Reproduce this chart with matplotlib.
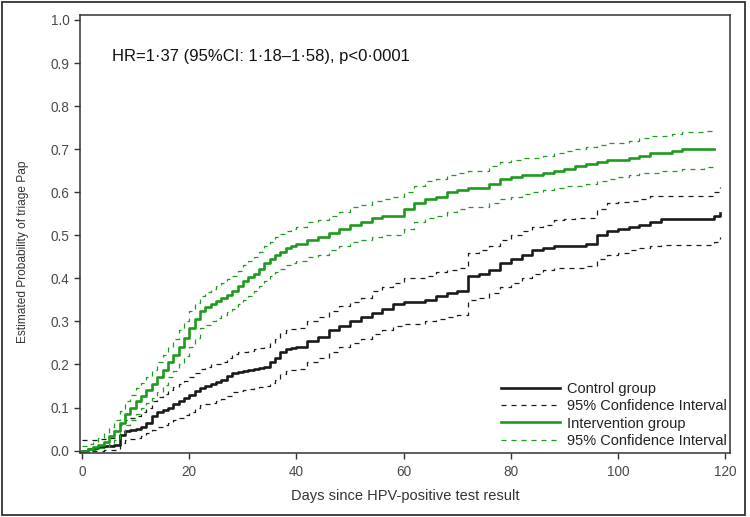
"""
Kaplan-Meier style curves: estimated probability of triage Pap by group
"""

import matplotlib
matplotlib.use("Agg")
import matplotlib.pyplot as plt
from matplotlib.patches import Rectangle

plt.rcParams["font.family"] = ["Liberation Sans", "DejaVu Sans"]

# daily up to day 39, then every 2 days
days_int = list(range(0, 40)) + list(range(40, 120, 2))
days_ctl = list(range(0, 40)) + list(range(40, 120, 2)) + [119]

int_est = [0.000, 0.004, 0.008, 0.012, 0.020, 0.033, 0.045, 0.065, 0.085, 0.100,
           0.115, 0.128, 0.140, 0.155, 0.170, 0.188, 0.205, 0.222, 0.240, 0.262,
           0.285, 0.305, 0.325, 0.333, 0.340, 0.348, 0.355, 0.362, 0.370, 0.383,
           0.395, 0.402, 0.410, 0.422, 0.435, 0.445, 0.455, 0.462, 0.470, 0.475,
           0.480, 0.490, 0.495, 0.505, 0.515, 0.525, 0.530, 0.540, 0.545, 0.545,
           0.560, 0.575, 0.585, 0.590, 0.600, 0.605, 0.610, 0.610, 0.620, 0.630,
           0.635, 0.640, 0.640, 0.645, 0.650, 0.655, 0.660, 0.665, 0.670, 0.675,
           0.675, 0.680, 0.685, 0.690, 0.690, 0.695, 0.700, 0.700, 0.700, 0.700]
int_upper = [0.010, 0.015, 0.020, 0.030, 0.040, 0.055, 0.070, 0.092, 0.115, 0.130,
             0.145, 0.158, 0.170, 0.188, 0.205, 0.222, 0.240, 0.260, 0.280, 0.302,
             0.325, 0.342, 0.360, 0.368, 0.375, 0.382, 0.390, 0.398, 0.405, 0.418,
             0.430, 0.440, 0.450, 0.462, 0.475, 0.485, 0.495, 0.502, 0.510, 0.515,
             0.520, 0.530, 0.535, 0.545, 0.555, 0.565, 0.570, 0.580, 0.585, 0.590,
             0.600, 0.615, 0.625, 0.630, 0.640, 0.645, 0.650, 0.650, 0.660, 0.670,
             0.675, 0.680, 0.680, 0.685, 0.690, 0.695, 0.700, 0.705, 0.710, 0.715,
             0.715, 0.720, 0.725, 0.730, 0.730, 0.735, 0.740, 0.740, 0.742, 0.744]
int_lower = [0.000, 0.001, 0.002, 0.005, 0.008, 0.016, 0.025, 0.042, 0.060, 0.072,
             0.085, 0.098, 0.110, 0.122, 0.135, 0.152, 0.170, 0.185, 0.200, 0.220,
             0.240, 0.262, 0.285, 0.292, 0.300, 0.308, 0.315, 0.322, 0.330, 0.340,
             0.350, 0.360, 0.370, 0.382, 0.395, 0.405, 0.415, 0.422, 0.430, 0.435,
             0.440, 0.450, 0.455, 0.465, 0.475, 0.485, 0.490, 0.495, 0.500, 0.500,
             0.515, 0.530, 0.540, 0.545, 0.555, 0.560, 0.565, 0.565, 0.575, 0.585,
             0.590, 0.595, 0.600, 0.605, 0.610, 0.615, 0.615, 0.620, 0.625, 0.630,
             0.635, 0.640, 0.645, 0.645, 0.650, 0.650, 0.655, 0.655, 0.658, 0.660]

ctl_est = [0.000, 0.003, 0.005, 0.008, 0.010, 0.011, 0.012, 0.036, 0.045, 0.048,
           0.050, 0.056, 0.065, 0.080, 0.090, 0.095, 0.100, 0.108, 0.115, 0.122,
           0.130, 0.138, 0.145, 0.150, 0.155, 0.160, 0.165, 0.173, 0.180, 0.182,
           0.185, 0.188, 0.190, 0.192, 0.195, 0.205, 0.215, 0.228, 0.235, 0.238,
           0.240, 0.255, 0.265, 0.280, 0.290, 0.300, 0.310, 0.320, 0.330, 0.340,
           0.345, 0.345, 0.350, 0.360, 0.365, 0.370, 0.405, 0.410, 0.420, 0.435,
           0.445, 0.455, 0.465, 0.470, 0.475, 0.475, 0.475, 0.480, 0.500, 0.510,
           0.515, 0.520, 0.525, 0.530, 0.538, 0.538, 0.538, 0.538, 0.538, 0.545,
           0.552]
ctl_upper = [0.025, 0.025, 0.025, 0.026, 0.028, 0.029, 0.030, 0.060, 0.070, 0.075,
             0.080, 0.090, 0.100, 0.115, 0.125, 0.132, 0.140, 0.148, 0.155, 0.162,
             0.170, 0.180, 0.190, 0.195, 0.200, 0.202, 0.205, 0.215, 0.225, 0.228,
             0.230, 0.232, 0.235, 0.238, 0.240, 0.250, 0.260, 0.272, 0.280, 0.283,
             0.285, 0.300, 0.310, 0.325, 0.335, 0.345, 0.355, 0.370, 0.380, 0.390,
             0.400, 0.400, 0.405, 0.415, 0.420, 0.425, 0.460, 0.465, 0.475, 0.490,
             0.500, 0.510, 0.520, 0.525, 0.535, 0.538, 0.540, 0.540, 0.560, 0.575,
             0.578, 0.580, 0.585, 0.592, 0.592, 0.592, 0.592, 0.592, 0.592, 0.600,
             0.612]
ctl_lower = [0.000, 0.000, 0.000, 0.000, 0.001, 0.001, 0.002, 0.018, 0.025, 0.028,
             0.030, 0.035, 0.040, 0.048, 0.055, 0.060, 0.065, 0.070, 0.075, 0.082,
             0.090, 0.098, 0.105, 0.108, 0.110, 0.115, 0.120, 0.128, 0.135, 0.138,
             0.140, 0.142, 0.145, 0.148, 0.150, 0.158, 0.165, 0.178, 0.185, 0.188,
             0.190, 0.205, 0.215, 0.230, 0.240, 0.250, 0.260, 0.270, 0.280, 0.290,
             0.295, 0.295, 0.300, 0.305, 0.310, 0.315, 0.350, 0.355, 0.365, 0.380,
             0.390, 0.400, 0.410, 0.420, 0.425, 0.425, 0.425, 0.428, 0.445, 0.455,
             0.460, 0.465, 0.470, 0.475, 0.478, 0.478, 0.478, 0.478, 0.478, 0.485,
             0.495]

x_ticks = [0, 20, 40, 60, 80, 100, 120]
y_ticks = [0.0, 0.1, 0.2, 0.3, 0.4, 0.5, 0.6, 0.7, 0.8, 0.9, 1.0]

GREEN = "#1e9a1e"
BLACK = "#1a1a1a"
AXIS = "#333333"

fig = plt.figure(figsize=(7.5, 5.17), dpi=100)
ax = fig.add_axes([80 / 750, 1 - 453 / 517, 650 / 750, 438 / 517])

ax.step(days_ctl, ctl_est, where="post", color=BLACK, lw=1.9, label="Control group")
ax.step(days_ctl, ctl_upper, where="post", color=BLACK, lw=0.9, ls=(0, (4, 4)),
        label="95% Confidence Interval")
ax.step(days_ctl, ctl_lower, where="post", color=BLACK, lw=0.9, ls=(0, (4, 4)))
ax.step(days_int, int_est, where="post", color=GREEN, lw=1.9, label="Intervention group")
ax.step(days_int, int_upper, where="post", color=GREEN, lw=0.9, ls=(0, (4, 4)),
        label="95% Confidence Interval")
ax.step(days_int, int_lower, where="post", color=GREEN, lw=0.9, ls=(0, (4, 4)))

ax.set_xlim(-0.4, 120.9)
ax.set_ylim(-0.0055, 1.0115)
ax.set_xticks(x_ticks)
ax.set_yticks(y_ticks)
ax.set_yticklabels([f"{v:.1f}" for v in y_ticks])
ax.tick_params(direction="out", length=4, width=1, color=AXIS, labelcolor="#4a4a4a",
               labelsize=9.8)
ax.tick_params(axis="x", pad=5)
for sp in ax.spines.values():
    sp.set_color(AXIS)
    sp.set_linewidth(1.1)

ax.set_xlabel("Days since HPV-positive test result", fontsize=10.5, color="#333333",
              labelpad=7)
ax.set_ylabel("Estimated Probability of triage Pap", fontsize=8.6, color="#333333")
ax.yaxis.set_label_coords(-0.079, 0.459)

ax.text(0.05, 0.905, "HR=1\u00b737 (95%CI: 1\u00b718\u20131\u00b758), p<0\u00b70001",
        transform=ax.transAxes, fontsize=12, color="#111111", va="center")

ax.legend(loc="lower right", bbox_to_anchor=(0.995, 0.012), frameon=False,
          fontsize=10.5, handlelength=4.0, handletextpad=0.5, labelspacing=0.22,
          borderpad=0, borderaxespad=0, labelcolor="#222222")

fig.patches.append(Rectangle((2 / 750, 2 / 517), 743 / 750, 513 / 517,
                             transform=fig.transFigure, fill=False,
                             edgecolor="#333333", lw=1.3))

fig.savefig("out.png", dpi=100)
